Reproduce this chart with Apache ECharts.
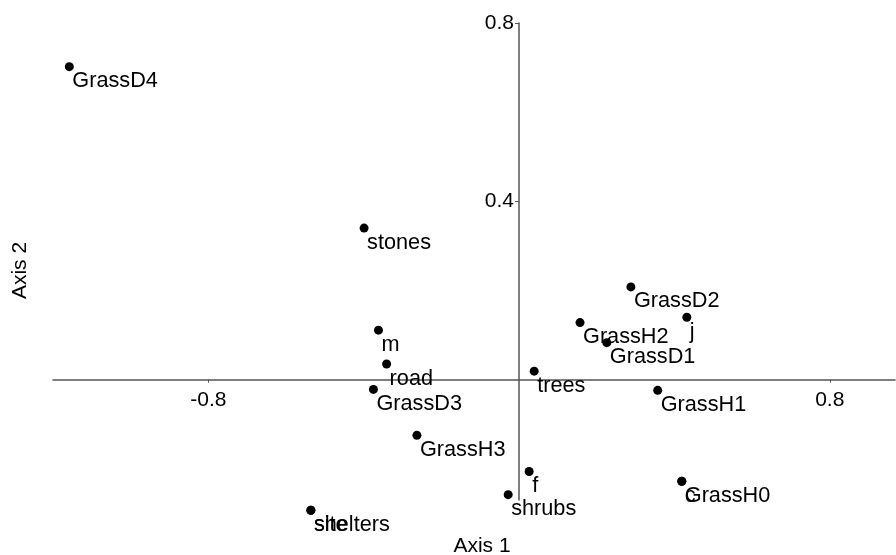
<!DOCTYPE html>
<html>
<head>
<meta charset="utf-8">
<script src="https://cdn.jsdelivr.net/npm/echarts@6/dist/echarts.min.js"></script>
<style>
html,body{margin:0;padding:0;background:#fff;}
#chart{width:896px;height:555px;}
</style>
</head>
<body>
<div id="chart"></div>
<script>
// Ordination scores
const labels = ['GrassD4','stones','m','road','GrassD3','GrassH3','f','shrubs','site','shelters','trees','GrassH2','GrassD1','GrassD2','j','GrassH1','c','GrassH0'];
const axis1 = [-1.158,-0.399,-0.362,-0.341,-0.375,-0.263,0.026,-0.028,-0.536,-0.536,0.039,0.157,0.226,0.288,0.432,0.357,0.419,0.419];
const axis2 = [0.702,0.340,0.111,0.035,-0.022,-0.125,-0.206,-0.258,-0.293,-0.293,0.019,0.128,0.083,0.208,0.140,-0.024,-0.228,-0.228];
const xTicks = [-0.8, 0.8];
const yTicks = [0.4, 0.8];

const data = labels.map((n, i) => [axis1[i], axis2[i], n]);
const font = 'Liberation Sans, Arial, sans-serif';

const chart = echarts.init(document.getElementById('chart'), null, {renderer: 'canvas'});
chart.setOption({
  animation: false,
  backgroundColor: '#fff',
  grid: {left: 53, right: 1, top: 23, bottom: 55, containLabel: false, outerBoundsMode: 'none'},
  xAxis: {
    type: 'value', min: -1.2, max: 0.968,
    name: 'Axis 1', nameLocation: 'middle', nameGap: 36,
    nameTextStyle: {color: '#000', fontSize: 21, fontFamily: font, padding: [0, 0, 0, 16]},
    axisLine: {onZero: true, lineStyle: {color: '#555', width: 1.5}},
    axisTick: {show: true, length: 3, customValues: xTicks, lineStyle: {color: '#555'}},
    axisLabel: {customValues: xTicks, color: '#000', fontSize: 21, fontFamily: font, margin: -110,
      formatter: v => v.toFixed(1)},
    splitLine: {show: false}
  },
  yAxis: {
    type: 'value', min: -0.27, max: 0.8,
    name: 'Axis 2', nameLocation: 'middle', nameGap: 22,
    nameTextStyle: {color: '#000', fontSize: 21, fontFamily: font, padding: [0, 18, 0, 0]},
    axisLine: {onZero: true, lineStyle: {color: '#555', width: 1.5}},
    axisTick: {show: true, length: 4, customValues: yTicks, lineStyle: {color: '#555'}},
    axisLabel: {customValues: yTicks, color: '#000', fontSize: 21, fontFamily: font, margin: -461,
      formatter: v => v.toFixed(1)},
    splitLine: {show: false}
  },
  series: [{
    type: 'scatter',
    data: data,
    clip: false,
    symbol: 'circle',
    symbolSize: 9,
    itemStyle: {color: '#000', opacity: 1},
    label: {
      show: true,
      position: [7.5, 8],
      color: '#000',
      opacity: 1,
      fontSize: 21.7,
      fontFamily: font,
      formatter: p => p.data[2]
    },
    emphasis: {disabled: true}
  }]
});
</script>
</body>
</html>
